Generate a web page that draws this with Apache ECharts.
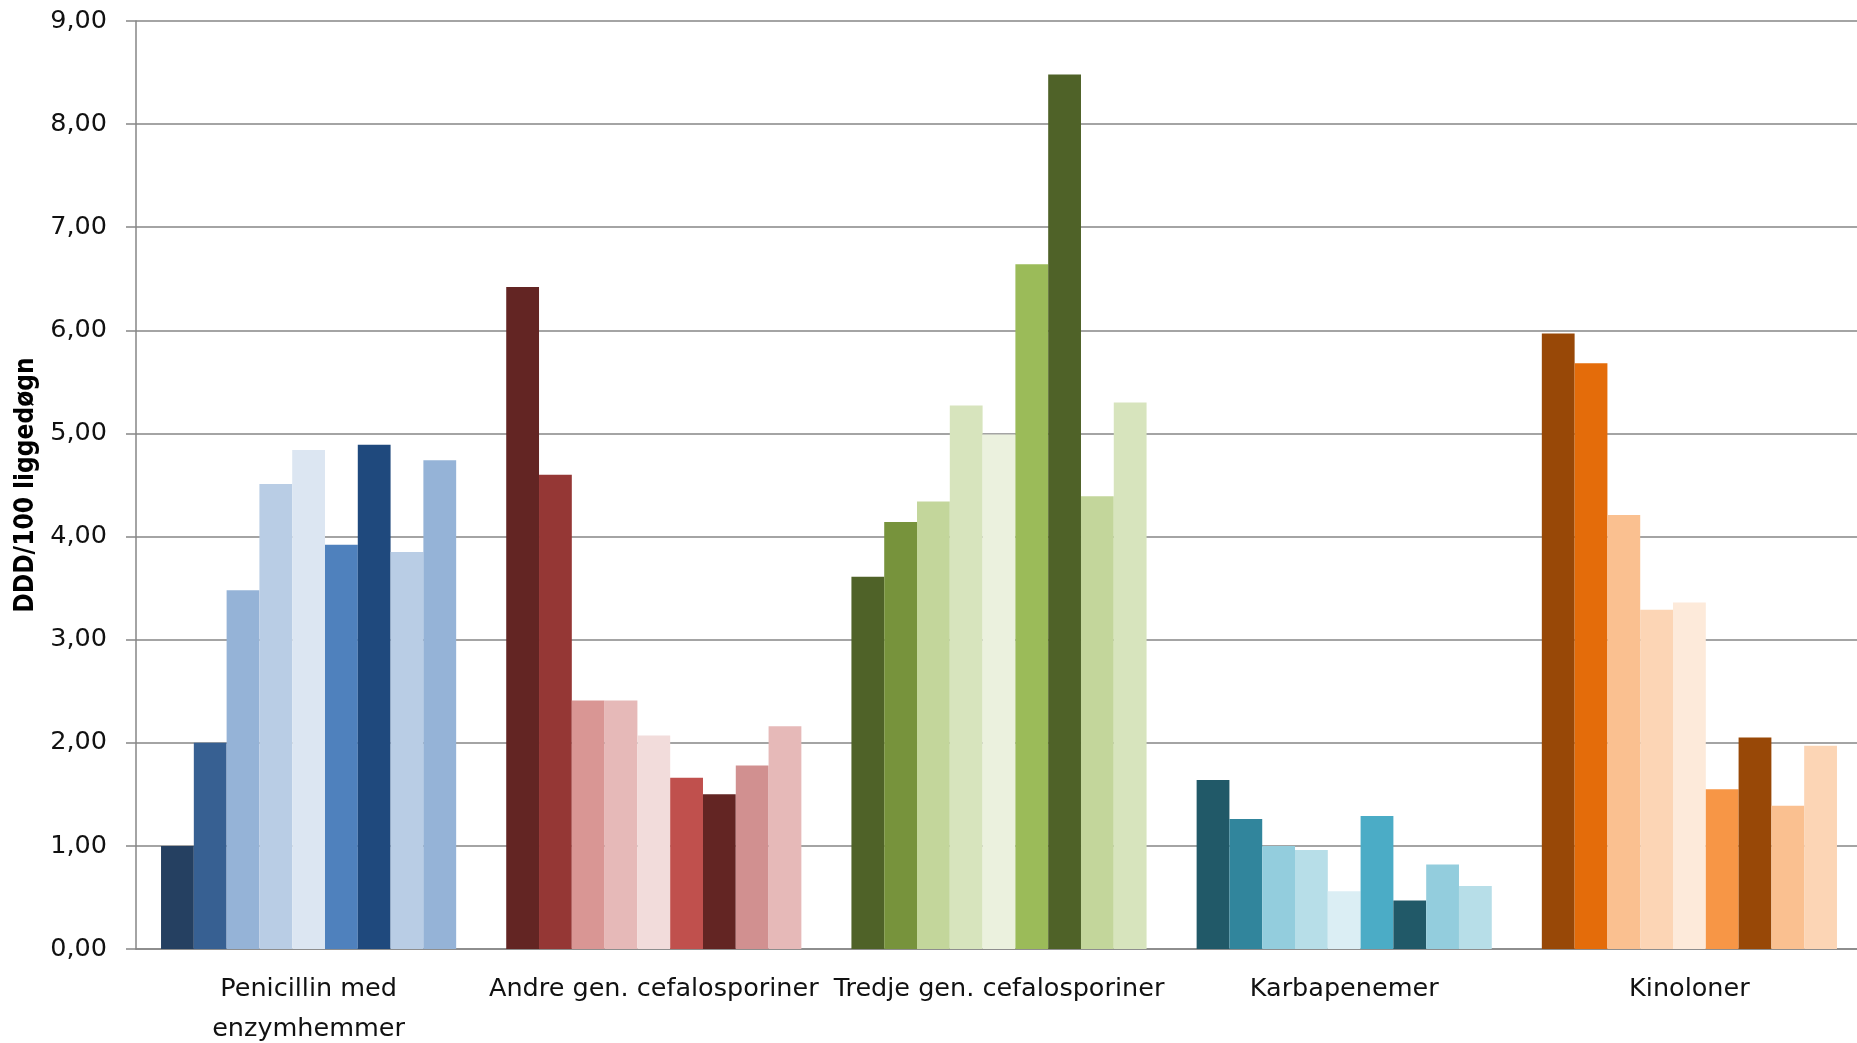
<!DOCTYPE html>
<html>
<head>
<meta charset="utf-8">
<script src="https://cdn.jsdelivr.net/npm/echarts@6/dist/echarts.min.js"></script>
<style>
html,body{margin:0;padding:0;background:#fff;overflow:hidden;}
#chart{width:1857px;height:1043px;}
</style>
</head>
<body>
<div id="chart"></div>
<script>
const categories = ['Penicillin med\nenzymhemmer', 'Andre gen. cefalosporiner', 'Tredje gen. cefalosporiner', 'Karbapenemer', 'Kinoloner'];
const yTicks = [0, 1, 2, 3, 4, 5, 6, 7, 8, 9];
const penicillin = [1.00, 2.00, 3.48, 4.51, 4.84, 3.92, 4.89, 3.85, 4.74];
const andreGen = [6.42, 4.60, 2.41, 2.41, 2.07, 1.66, 1.50, 1.78, 2.16];
const tredjeGen = [3.61, 4.14, 4.34, 5.27, 4.99, 6.64, 8.48, 4.39, 5.30];
const karbapenemer = [1.64, 1.26, 1.00, 0.96, 0.56, 1.29, 0.47, 0.82, 0.61];
const kinoloner = [5.97, 5.68, 4.21, 3.29, 3.36, 1.55, 2.05, 1.39, 1.97];

const groups = [penicillin, andreGen, tredjeGen, karbapenemer, kinoloner];
const palettes = [
  ['#254061', '#376092', '#95B3D7', '#B9CDE5', '#DCE6F2', '#4F81BD', '#1F497D', '#B9CDE5', '#95B3D7'],
  ['#632523', '#953735', '#D99694', '#E6B9B8', '#F2DCDB', '#C0504D', '#632523', '#D19090', '#E6B9B8'],
  ['#4F6228', '#77933C', '#C3D69B', '#D7E4BD', '#EBF1DE', '#9BBB59', '#4F6228', '#C3D69B', '#D7E4BD'],
  ['#215968', '#31859C', '#93CDDD', '#B7DEE8', '#DBEEF4', '#4BACC6', '#215968', '#93CDDD', '#B7DEE8'],
  ['#984807', '#E46C0A', '#FAC090', '#FCD5B5', '#FDEADA', '#F79646', '#984807', '#FAC090', '#FCD5B5']
];

const series = [];
for (let s = 0; s < 9; s++) {
  series.push({
    type: 'bar',
    barGap: '0%',
    barCategoryGap: '14.5%',
    data: groups.map((g, c) => ({ value: g[s], itemStyle: { color: palettes[c][s] } }))
  });
}

const chart = echarts.init(document.getElementById('chart'));
chart.setOption({
  animation: false,
  grid: { left: 136, right: -5, top: 21, bottom: 94, containLabel: false, outerBoundsMode: 'none' },
  xAxis: {
    type: 'category',
    data: categories,
    axisLine: { show: true, lineStyle: { color: '#868686', width: 1.5 } },
    axisTick: { show: false },
    axisLabel: {
      interval: 0,
      margin: 20,
      fontFamily: 'DejaVu Sans',
      fontSize: 25.5,
      lineHeight: 40,
      color: '#111'
    }
  },
  yAxis: {
    type: 'value',
    min: yTicks[0],
    max: yTicks[yTicks.length - 1],
    interval: 1,
    name: 'DDD/100 liggedøgn',
    nameLocation: 'middle',
    nameGap: 94,
    nameTextStyle: {
      fontFamily: 'Liberation Sans Narrow, DejaVu Sans Condensed, sans-serif',
      fontWeight: 'bold',
      fontSize: 26,
      color: '#000'
    },
    axisLine: { show: true, lineStyle: { color: '#868686', width: 1.5 } },
    axisTick: { show: true, inside: false, length: 10, lineStyle: { color: '#868686', width: 1.5 } },
    splitLine: { show: true, lineStyle: { color: '#868686', width: 1.5 } },
    axisLabel: {
      margin: 29,
      fontFamily: 'DejaVu Sans',
      fontSize: 25.5,
      color: '#111',
      formatter: v => v.toFixed(2).replace('.', ',')
    }
  },
  series: series
});
</script>
</body>
</html>
